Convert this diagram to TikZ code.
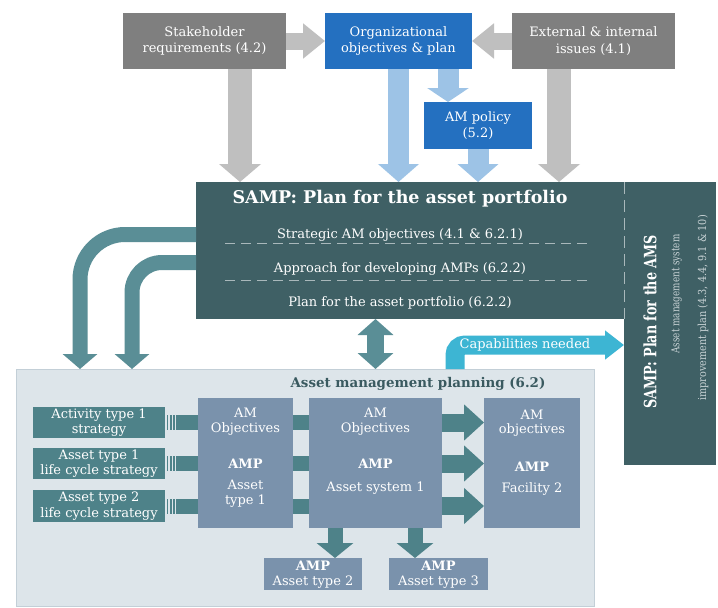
\documentclass[tikz,border=0pt]{standalone}
\usepackage{fontspec}
\usepackage{graphicx}
\setmainfont{DejaVu Serif}
\usetikzlibrary{arrows.meta,calc}
\definecolor{cgray}{HTML}{7F7F7F}
\definecolor{clgray}{HTML}{BFBFBF}
\definecolor{cblue}{HTML}{2470C0}
\definecolor{clblue}{HTML}{9DC3E6}
\definecolor{cdark}{HTML}{3F6065}
\definecolor{cteal}{HTML}{5A8E96}
\definecolor{cleft}{HTML}{4E8289}
\definecolor{cpanel}{HTML}{DDE5EA}
\definecolor{cpanelb}{HTML}{C3CFD7}
\definecolor{cslate}{HTML}{7A92AC}
\definecolor{ccyan}{HTML}{3DB5D3}
\definecolor{cdash}{HTML}{A9B8BB}
\definecolor{camstext}{HTML}{C8D2D5}
\definecolor{ctitle}{HTML}{3A5A60}
\newcommand\fz[2]{\fontsize{#1}{#2}\selectfont}
\tikzset{
  boxbase/.style={inner sep=0pt, outer sep=0pt, text=white, align=center, font=\fz{13}{16.5}},
  graybox/.style={boxbase, fill=cgray},
  bluebox/.style={boxbase, fill=cblue},
  darkbox/.style={inner sep=0pt, outer sep=0pt, fill=cdark},
  leftbox/.style={boxbase, fill=cleft, font=\fz{13}{15.5}},
  slatebox/.style={inner sep=0pt, outer sep=0pt, fill=cslate},
  wtext/.style={inner sep=0pt, text=white, font=\fz{13}{16}},
  wbold/.style={inner sep=0pt, text=white, font=\fz{13}{16}\bfseries},
  hgray/.style={draw=clgray, line width=17pt, line cap=butt, -{Triangle[width=34pt,length=22pt]}},
  vgray/.style={draw=clgray, line width=24pt, line cap=butt, -{Triangle[width=41pt,length=18pt]}},
  vblue/.style={draw=clblue, line width=21pt, line cap=butt, -{Triangle[width=40pt,length=18pt]}},
  sblue/.style={draw=clblue, line width=21pt, line cap=butt, -{Triangle[width=41pt,length=14pt]}},
  curved/.style={draw=cteal, line width=15pt, line cap=butt, -{Triangle[width=34pt,length=15pt]}},
  dblarrow/.style={draw=cteal, line width=17pt, line cap=butt, {Triangle[width=35pt,length=16pt]}-{Triangle[width=35pt,length=16pt]}},
  capsarrow/.style={draw=ccyan, line width=19pt, line cap=butt, -{Triangle[width=28pt,length=19pt]}},
  barconn/.style={draw=cleft, line width=15pt, line cap=butt},
  stripe/.style={draw=cpanel, line width=1.6pt},
  fatteal/.style={draw=cleft, line width=18pt, line cap=butt, -{Triangle[width=35pt,length=20pt]}},
  downteal/.style={draw=cleft, line width=15pt, line cap=butt, -{Triangle[width=36pt,length=15pt]}},
  dashsep/.style={draw=cdash, line width=1pt, dash pattern=on 10pt off 6pt},
}
\begin{document}
\begin{tikzpicture}[x=1pt,y=-1pt]
\useasboundingbox (0,0) rectangle (718,608);
\fill[white] (0,0) rectangle (718,608);

% top boxes
\node[graybox, minimum width=163pt, minimum height=56pt] (stake) at (204.5,41) {Stakeholder\\requirements (4.2)};
\node[bluebox, minimum width=147pt, minimum height=56pt] (org) at (398.5,41) {Organizational\\objectives \& plan};
\node[graybox, minimum width=163pt, minimum height=56pt] (ext) at (593.5,41) {External \& internal\\issues (4.1)};
\node[bluebox, minimum width=108pt, minimum height=47pt] (policy) at (478,125.5) {AM policy\\(5.2)};

% SAMP boxes
\node[darkbox, minimum width=428pt, minimum height=137pt] (samp) at (410,250.5) {};
\node[darkbox, minimum width=92pt, minimum height=283pt] (ams) at (670,323.5) {};
\draw[dashsep] (225,243) -- (593,243);
\draw[dashsep] (225,280) -- (593,280);
\draw[draw=cdash, line width=1pt, dash pattern=on 12pt off 6pt] (samp.north east) -- (samp.south east);
\node[inner sep=0pt, text=white, font=\fz{17.5}{20}\bfseries] (sampt) at (400,199) {SAMP: Plan for the asset portfolio};
\node[wtext] (l1) at (400,235) {Strategic AM objectives (4.1 \& 6.2.1)};
\node[wtext] (l2) at (400,269) {Approach for developing AMPs (6.2.2)};
\node[wtext] (l3) at (400,303) {Plan for the asset portfolio (6.2.2)};
\node[inner sep=0pt, text=white, rotate=90, font=\fz{17}{20}\bfseries] (amst) at (650,322) {\scalebox{0.75}[1]{SAMP: Plan for the AMS}};
\node[inner sep=0pt, text=camstext, rotate=90, font=\fz{11}{13}] (ams1) at (676.5,294) {\scalebox{0.8}[1]{Asset management system}};
\node[inner sep=0pt, text=camstext, rotate=90, font=\fz{11}{13}] (ams2) at (703,308) {\scalebox{0.88}[1]{improvement plan (4.3, 4.4, 9.1 \& 10)}};

% top arrows
\draw[hgray] (stake.east) -- (org.west);
\draw[hgray] (ext.west) -- (org.east);
\coordinate (s1) at ([xshift=35.5pt]stake.south);
\draw[vgray] (s1) -- (s1 |- samp.north);
\draw[vblue] (org.south) -- (org.south |- samp.north);
\coordinate (p1) at ([xshift=-30pt]policy.north);
\draw[sblue] (p1 |- org.south) -- (p1);
\draw[vblue] (policy.south) -- (policy.south |- samp.north);
\coordinate (e1) at ([xshift=-34.5pt]ext.south);
\draw[vgray] (e1) -- (e1 |- samp.north);

% panel
\node[inner sep=0pt, outer sep=0pt, fill=cpanel, draw=cpanelb, line width=0.8pt, minimum width=578pt, minimum height=237pt] (panel) at (305,487.5) {};
\node[inner sep=0pt, text=ctitle, font=\fz{13.4}{16}\bfseries] (ptitle) at (418,384) {Asset management planning (6.2)};

% curved arrows from SAMP
\coordinate (k1) at ([yshift=16pt]samp.west);
\coordinate (k1e) at (80,369);
\draw[curved, rounded corners=45pt] (k1) -- (k1 -| k1e) -- (k1e);
\coordinate (k2) at ([yshift=-12pt]samp.west);
\coordinate (k2e) at (132,369);
\draw[curved, rounded corners=30pt] (k2) -- (k2 -| k2e) -- (k2e);

% left boxes
\node[leftbox, minimum width=132pt, minimum height=31pt] (lb1) at (99,422.5) {Activity type 1\\strategy};
\node[leftbox, minimum width=132pt, minimum height=31pt] (lb2) at (99,463.5) {Asset type 1\\life cycle strategy};
\node[leftbox, minimum width=132pt, minimum height=32pt] (lb3) at (99,506) {Asset type 2\\life cycle strategy};

% slate boxes
\node[slatebox, minimum width=95pt, minimum height=130pt] (box1) at (245.5,463) {};
\node[slatebox, minimum width=133pt, minimum height=130pt] (box2) at (375.5,463) {};
\node[slatebox, minimum width=96pt, minimum height=130pt] (box3) at (532,463) {};
\node[slatebox, minimum width=98pt, minimum height=32pt] (bt2) at (313,574) {};
\node[slatebox, minimum width=99pt, minimum height=32pt] (bt3) at (438.5,574) {};

\node[wtext] (b1a) at (245.5,413) {AM};
\node[wtext] (b1b) at (245.5,429) {Objectives};
\node[wbold] (b1c) at (245.5,464) {AMP};
\node[wtext] (b1d) at (245.5,485) {Asset};
\node[wtext] (b1e) at (245.5,501) {type 1};
\node[wtext] (b2a) at (375.5,413) {AM};
\node[wtext] (b2b) at (375.5,429) {Objectives};
\node[wbold] (b2c) at (375.5,464) {AMP};
\node[wtext] (b2d) at (375.5,488) {Asset system 1};
\node[wtext] (b3a) at (532,415) {AM};
\node[wtext] (b3b) at (532,430) {objectives};
\node[wbold] (b3c) at (532,467) {AMP};
\node[wtext] (b3d) at (532,489) {Facility 2};
\node[wbold] (t2a) at (313,566) {AMP};
\node[wtext] (t2b) at (313,582) {Asset type 2};
\node[wbold] (t3a) at (438.5,566) {AMP};
\node[wtext] (t3b) at (438.5,582) {Asset type 3};

% panel connectors
\foreach \i in {1,2,3} {
  \draw[barconn] (lb\i.east) -- (lb\i.east -| box1.west);
  \foreach \dx in {0.85,4.15,7.5,10.5}
    \draw[stripe] ([xshift=\dx pt, yshift=8pt]lb\i.east) -- ([xshift=\dx pt, yshift=-8pt]lb\i.east);
  \draw[barconn] (lb\i.east -| box1.east) -- (lb\i.east -| box2.west);
  \draw[fatteal] (lb\i.east -| box2.east) -- (lb\i.east -| box3.west);
}
\coordinate (d1) at ([xshift=-40.5pt]box2.south);
\draw[downteal] (d1) -- (d1 |- bt2.north);
\coordinate (d2) at ([xshift=39.5pt]box2.south);
\draw[downteal] (d2) -- (d2 |- bt3.north);

% SAMP to panel
\draw[dblarrow] (samp.south -| box2.north) -- (panel.north -| box2.north);

% capabilities
\coordinate (cx) at (455,345);
\draw[capsarrow, rounded corners=10pt] (panel.north -| cx) -- (cx) -- (cx -| ams.west);
\node[wtext] (caps) at (525,345) {Capabilities needed};
\end{tikzpicture}
\end{document}
